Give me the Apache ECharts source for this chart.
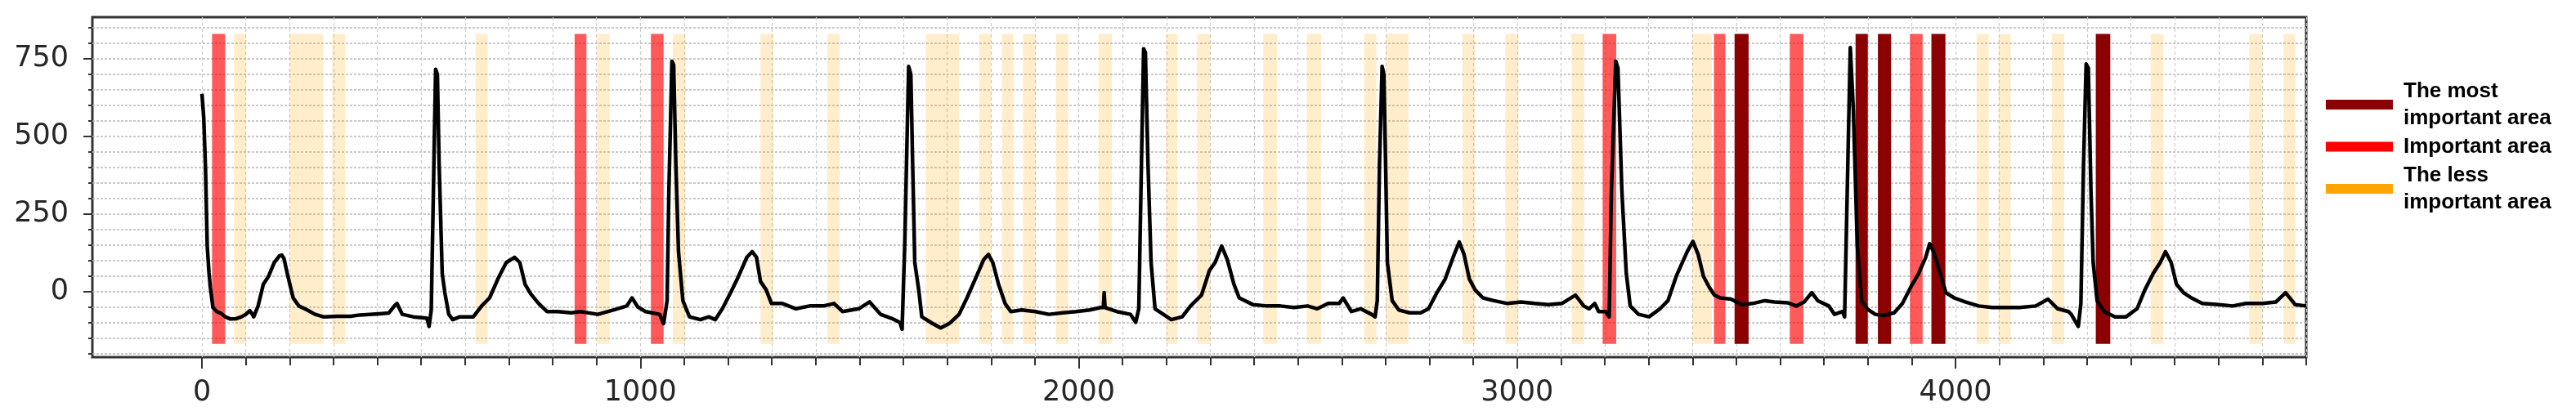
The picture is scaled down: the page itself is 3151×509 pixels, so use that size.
<!DOCTYPE html>
<html><head><meta charset="utf-8">
<script src="https://cdn.jsdelivr.net/npm/echarts@6/dist/echarts.min.js"></script>
<style>html,body{margin:0;padding:0;background:#fff}#c{width:3151px;height:509px}</style>
</head><body><div id="c"></div>
<script>
// ECG-like signal: [sample index, value]
const signal = [
[0,637],[4,560],[8,400],[12,146],[16,60],[19,14],[25,-52],[34,-65],[45,-72],[53,-82],[65,-89],[78,-88],[90,-82],[100,-74],[109,-62],[114,-72],[118,-82],[128,-47],[140,23],[152,49],[165,93],[177,115],[182,117],[187,106],[196,49],[208,-21],[221,-47],[240,-60],[258,-74],[277,-82],[308,-80],[339,-80],[360,-76],[389,-74],[410,-72],[426,-70],[440,-45],[445,-39],[452,-60],[457,-74],[482,-82],[513,-86],[518,-113],[523,-60],[529,409],[533,716],[537,700],[541,409],[548,58],[554,-4],[563,-74],[572,-91],[588,-82],[619,-82],[638,-47],[656,-21],[675,40],[694,93],[713,110],[725,93],[737,23],[750,-8],[768,-39],[787,-65],[812,-65],[843,-69],
[863,-65],[903,-74],[938,-60],[969,-47],[981,-21],[994,-50],[1012,-65],[1044,-74],[1053,-104],[1061,-30],[1065,321],[1072,742],[1076,730],[1081,409],[1087,128],[1097,-30],[1112,-82],[1137,-91],[1156,-82],[1171,-91],[1187,-56],[1206,-4],[1224,49],[1243,110],[1255,128],[1265,110],[1274,32],[1287,5],[1299,-39],[1324,-39],[1355,-56],[1386,-47],[1417,-47],[1442,-39],[1461,-65],[1498,-56],[1523,-34],[1548,-74],[1573,-87],[1592,-100],[1597,-122],[1603,146],[1612,725],[1617,700],[1621,420],[1626,93],[1635,5],[1642,-82],[1667,-104],[1685,-118],[1704,-104],
[1708,-100],[1727,-74],[1745,-21],[1764,40],[1783,102],[1794,119],[1804,93],[1817,23],[1832,-39],[1845,-65],[1870,-60],[1901,-65],[1932,-74],[1963,-69],[1994,-65],[2025,-60],[2050,-52],[2056,-52],[2058,-4],[2060,-52],[2062,-56],[2087,-65],[2118,-74],[2130,-100],[2137,-56],[2143,409],[2148,782],[2152,770],[2158,409],[2165,93],[2174,-56],[2193,-74],[2211,-91],[2236,-82],[2255,-47],[2280,-12],[2298,67],[2311,93],[2326,146],[2339,102],[2354,23],[2366,-21],[2398,-43],[2429,-47],[2460,-47],[2491,-52],[2522,-47],[2544,-56],
[2569,-39],[2594,-39],[2603,-21],[2622,-65],[2643,-56],[2668,-74],[2676,-82],[2681,-30],[2686,409],[2692,725],[2696,700],[2700,409],[2704,93],[2715,-30],[2730,-60],[2755,-69],[2780,-69],[2798,-56],[2817,-4],[2836,40],[2854,110],[2868,159],[2879,119],[2891,40],[2904,5],[2922,-21],[2947,-30],[2978,-39],[3009,-34],[3040,-39],[3071,-43],[3102,-39],[3133,-12],[3152,-47],[3164,-56],[3177,-39],[3186,-65],[3202,-65],[3210,-82],[3215,321],[3225,742],[3230,720],[3239,321],[3249,58],[3258,-47],[3277,-74],[3301,-82],[3326,-56],[3344,-30],[3363,49],[3388,128],[3401,161],
[3413,119],[3425,49],[3438,14],[3450,-12],[3463,-21],[3488,-25],[3512,-43],[3537,-39],[3565,-30],[3587,-34],[3618,-37],[3637,-47],[3655,-34],[3672,-4],[3686,-30],[3711,-47],[3724,-74],[3742,-65],[3747,-82],[3753,321],[3760,786],[3767,584],[3776,146],[3786,-30],[3798,-56],[3817,-74],[3835,-78],[3860,-69],[3879,-39],[3898,14],[3916,58],[3932,110],[3941,154],[3950,128],[3963,67],[3978,-4],[3997,-21],[4022,-34],[4053,-47],[4084,-52],[4115,-52],[4146,-52],[4183,-47],[4211,-25],[4233,-56],[4258,-65],
[4264,-74],[4280,-113],[4286,-39],[4292,409],[4298,733],[4303,720],[4309,321],[4314,93],[4323,-30],[4339,-65],[4364,-82],[4389,-82],[4414,-56],[4432,5],[4451,58],[4467,93],[4479,128],[4492,93],[4504,23],[4520,-4],[4538,-21],[4563,-39],[4601,-43],[4632,-47],[4663,-39],[4700,-39],[4731,-34],[4753,-4],[4775,-43],[4800,-47]
];

// highlighted spans [start, end] in sample index
const mostImportantSpans = [[3496,3528],[3772,3800],[3823,3853],[3945,3977],[4320,4353]];
const importantSpans = [[23,53],[850,877],[1024,1053],[3195,3226],[3449,3475],[3622,3653],[3896,3925]];
const lessImportantSpans = [[73,101],[200,277],[297,327],[624,652],[901,930],[1074,1103],[1274,1304],[1426,1455],[1651,1727],[1773,1800],[1825,1851],[1873,1902],[1948,1976],[2045,2076],[2199,2225],[2270,2300],[2421,2452],[2520,2553],[2651,2679],[2701,2752],[2875,2904],[2973,3003],[3124,3153],[3400,3444],[4048,4076],[4098,4126],[4220,4248],[4445,4474],[4670,4700],[4748,4775]];

const legendNames = ['The most\nimportant area', 'Important area', 'The less\nimportant area'];

const xTicks = [0,100,200,300,400,500,600,700,800,900,1000,1100,1200,1300,1400,1500,1600,1700,1800,1900,2000,2100,2200,2300,2400,2500,2600,2700,2800,2900,3000,3100,3200,3300,3400,3500,3600,3700,3800,3900,4000,4100,4200,4300,4400,4500,4600,4700,4800];
const xLabels = [0,1000,2000,3000,4000];
const yTicks = [-200,-150,-100,-50,0,50,100,150,200,250,300,350,400,450,500,550,600,650,700,750,800,850];
const yLabels = [0,250,500,750];

const xRange = [-250, 4800];
const yRange = [-212, 884];
const spanRange = [-169, 830];

function spansToArea(spans) {
  return spans.map(s => [{xAxis: s[0], yAxis: spanRange[0]}, {xAxis: s[1], yAxis: spanRange[1]}]);
}

const chart = echarts.init(document.getElementById('c'), null, {renderer: 'canvas'});
const labelFont = {fontFamily: 'DejaVu Sans', fontSize: 35, color: '#262626', formatter: v => String(v)};
const hiddenLine = {show: false, onZero: false};

chart.setOption({
  animation: false,
  backgroundColor: '#ffffff',
  grid: {left: 113, right: 330, top: 21, bottom: 72, show: true, borderColor: '#333', borderWidth: 3, backgroundColor: 'transparent'},
  legend: {
    data: legendNames, orient: 'vertical', left: 2845, top: 95, padding: 0, itemGap: 2,
    itemWidth: 82, itemHeight: 12, icon: 'rect', selectedMode: false,
    textStyle: {fontFamily: 'Liberation Sans', fontWeight: 'bold', fontSize: 26, lineHeight: 33, color: '#000', padding: [0,0,0,8]}
  },
  xAxis: [
    {type: 'value', min: xRange[0], max: xRange[1], position: 'bottom',
     axisLine: hiddenLine,
     axisTick: {show: true, inside: false, length: 10, customValues: xTicks, lineStyle: {color: '#333', width: 2}},
     axisLabel: {customValues: xLabels, margin: 26, ...labelFont},
     splitLine: {show: true, lineStyle: {color: '#cdcdcd', type: [4,3], width: 1.2}}},
    {type: 'value', min: xRange[0], max: xRange[1], position: 'bottom', offset: 0,
     axisLine: hiddenLine,
     axisTick: {show: true, inside: false, length: 14, customValues: xLabels, lineStyle: {color: '#333', width: 2}},
     axisLabel: {show: false}, splitLine: {show: false}}
  ],
  yAxis: [
    {type: 'value', min: yRange[0], max: yRange[1], position: 'left',
     axisLine: hiddenLine,
     axisTick: {show: true, inside: false, length: 5, customValues: yTicks, lineStyle: {color: '#333', width: 2}},
     axisLabel: {customValues: yLabels, margin: 29, ...labelFont},
     splitLine: {show: true, lineStyle: {color: '#b8b8b8', type: [3,2], width: 1.5}}},
    {type: 'value', min: yRange[0], max: yRange[1], position: 'left', offset: 0,
     axisLine: hiddenLine,
     axisTick: {show: true, inside: false, length: 11, customValues: yLabels, lineStyle: {color: '#333', width: 2}},
     axisLabel: {show: false}, splitLine: {show: false}}
  ],
  series: [
    {name: legendNames[0], type: 'line', data: [], color: '#8b0000', z: 1,
     markArea: {silent: true, itemStyle: {color: 'rgba(139,0,0,1)'}, data: spansToArea(mostImportantSpans)}},
    {name: legendNames[1], type: 'line', data: [], color: '#ff0000', z: 1,
     markArea: {silent: true, itemStyle: {color: 'rgba(255,0,0,0.65)'}, data: spansToArea(importantSpans)}},
    {name: legendNames[2], type: 'line', data: [], color: '#ffa500', z: 1,
     markArea: {silent: true, itemStyle: {color: 'rgba(255,165,0,0.2)'}, data: spansToArea(lessImportantSpans)}},
    {name: 'signal', type: 'line', data: signal, showSymbol: false, z: 3,
     lineStyle: {color: '#000', width: 4.5, join: 'round'}, itemStyle: {color: '#000'}}
  ]
});
</script>
</body></html>
